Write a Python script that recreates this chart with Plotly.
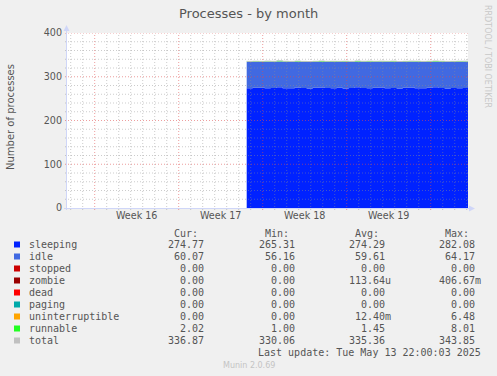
import datetime as dt
import pandas as pd
import plotly.graph_objects as go

# ---------------- data ----------------
series_names = ["sleeping", "idle", "stopped", "zombie", "dead", "paging",
                "uninterruptible", "runnable"]
series_colors = ["#0022ff", "#4169e1", "#cc0000", "#990000", "#ff0000",
                 "#00aaaa", "#ffa500", "#22ff22"]
total_color = "#c0c0c0"

data_start = "2025-04-26 16:00"   # first sample (12 h steps)

sleeping = [273.8, 274.6, 275.1, 273.9, 274.4, 276.2, 273.5, 274.0, 275.3, 274.1,
            273.2, 274.8, 275.6, 274.3, 273.7, 274.9, 273.1, 274.5, 276.0, 274.2,
            273.6, 274.7, 275.2, 273.9, 274.4, 273.3, 274.6, 275.5, 274.0, 273.8,
            274.9, 275.8, 274.1, 273.4, 274.3, 273.7, 274.5, 274.77]
idle = [59.9, 59.2, 58.8, 60.3, 59.7, 58.4, 60.6, 59.8, 58.9, 59.5,
        60.4, 59.1, 58.6, 59.7, 60.2, 59.0, 60.8, 59.4, 58.5, 59.9,
        60.3, 59.2, 58.9, 60.1, 59.6, 60.5, 59.3, 58.7, 59.8, 60.0,
        59.1, 58.6, 59.9, 60.4, 59.5, 60.2, 59.6, 60.07]
stopped = [0.0] * 38
zombie = [0.0] * 38
dead = [0.0] * 38
paging = [0.0] * 38
uninterruptible = [0.0] * 38
runnable = [1.4, 1.6, 1.3, 1.5, 1.2, 1.7, 1.4, 1.3, 1.6, 1.5,
            1.2, 1.4, 1.8, 1.3, 1.5, 1.4, 1.6, 1.2, 1.5, 1.3,
            1.7, 1.4, 1.5, 1.3, 1.6, 1.2, 1.4, 1.5, 1.7, 1.3,
            1.4, 1.6, 1.5, 1.3, 1.4, 1.6, 1.5, 2.02]
total = [335.1, 335.4, 335.2, 335.7, 335.3, 336.3, 335.5, 335.1, 335.8, 335.1,
         334.8, 335.3, 336.0, 335.3, 335.4, 335.3, 335.5, 335.1, 336.0, 335.4,
         335.6, 335.3, 335.6, 335.3, 335.6, 335.0, 335.3, 335.7, 335.5, 335.1,
         335.4, 336.0, 335.5, 335.1, 335.2, 335.5, 335.6, 336.87]

cur_vals = ["274.77", "60.07", "0.00", "0.00", "0.00", "0.00", "0.00", "2.02", "336.87"]
min_vals = ["265.31", "56.16", "0.00", "0.00", "0.00", "0.00", "0.00", "1.00", "330.06"]
avg_vals = ["274.29", "59.61", "0.00", "113.64u", "0.00", "0.00", "12.40m", "1.45", "335.36"]
max_vals = ["282.08", "64.17", "0.00", "406.67m", "0.00", "0.00", "6.48", "8.01", "343.85"]

y_ticks = [0, 100, 200, 300, 400]
x_range = ["2025-04-11 16:36", "2025-05-15 02:36"]
title_text = "Processes - by month"
y_title = "Number of processes"
last_update = "Last update: Tue May 13 22:00:03 2025"
footer = "Munin 2.0.69"
watermark = "RRDTOOL / TOBI OETIKER"

# ---------------- layout geometry ----------------
W, H = 497, 376
L, R, T, B = 67, 29, 33, 168
PW, PH = W - L - R, H - T - B


def px(x):
    return (x - L) / PW


def py(y):
    return (H - B - y) / PH


values = [sleeping, idle, stopped, zombie, dead, paging, uninterruptible, runnable]
times = pd.date_range(data_start, periods=len(sleeping), freq="12h")

fig = go.Figure()
for name, col, vals in zip(series_names, series_colors, values):
    fig.add_trace(go.Scatter(
        x=times, y=vals, name=name, mode="lines", stackgroup="procs",
        line=dict(width=0, shape="hv", color=col), fillcolor=col,
        hoverinfo="skip"))
fig.add_trace(go.Scatter(
    x=times, y=total, name="total", mode="lines",
    line=dict(width=1, shape="hv", color=total_color), hoverinfo="skip"))

# ---------------- grid (drawn above the data like rrdtool) ----------------
shapes = []
grid_minor = "rgba(143,143,143,0.45)"
grid_major = "rgba(222,79,79,0.55)"
dash = "1px,2px"
ext_x = 2 / PW
ext_y = 2 / PH

x0 = pd.Timestamp(x_range[0])
x1 = pd.Timestamp(x_range[1])
day = x0.normalize() + pd.Timedelta(days=1)
while day < x1:
    major = day.weekday() == 0
    shapes.append(dict(type="line", xref="x", yref="paper", x0=day, x1=day,
                       y0=-ext_y, y1=1, layer="above",
                       line=dict(color=grid_major if major else grid_minor,
                                 width=1, dash=dash)))
    day += pd.Timedelta(days=1)

for v in range(20, 401, 20):
    major = v % 100 == 0
    shapes.append(dict(type="line", xref="paper", yref="y", x0=-ext_x, x1=1 + ext_x,
                       y0=v, y1=v, layer="above",
                       line=dict(color=grid_major if major else grid_minor,
                                 width=1, dash=dash)))

axis_col = "#CFD6F8"
# axes lines + arrows
shapes.append(dict(type="line", xref="paper", yref="paper", x0=px(L - 0.5), x1=px(L - 0.5),
                   y0=py(H - B + 2), y1=py(28), layer="above",
                   line=dict(color=axis_col, width=1)))
shapes.append(dict(type="line", xref="paper", yref="paper", x0=px(L - 3), x1=px(471),
                   y0=py(H - B + 0.5), y1=py(H - B + 0.5), layer="above",
                   line=dict(color=axis_col, width=1)))
shapes.append(dict(type="path", xref="paper", yref="paper", layer="above",
                   path=f"M {px(63.5)} {py(31)} L {px(69.5)} {py(31)} L {px(66.5)} {py(25)} Z",
                   fillcolor=axis_col, line=dict(width=0)))
shapes.append(dict(type="path", xref="paper", yref="paper", layer="above",
                   path=f"M {px(469)} {py(205.5)} L {px(469)} {py(211.5)} L {px(475)} {py(208.5)} Z",
                   fillcolor=axis_col, line=dict(width=0)))

# ---------------- legend ----------------
annotations = []
mono = "DejaVu Sans Mono"
txt_col = "#555555"
cw = 5.95
row0 = 244.5
legend_names = series_names + ["total"]
legend_colors = series_colors + [total_color]

for hdr, xe in zip(["Cur:", "Min:", "Avg:", "Max:"], [199.8, 290.8, 380.8, 470.8]):
    annotations.append(dict(xref="paper", yref="paper", x=px(xe), y=py(233),
                            text=hdr, showarrow=False, xanchor="right", yanchor="middle",
                            font=dict(family=mono, size=10, color=txt_col)))

col_ends = [205.7, 296.7, 386.7, 476.7]
for i, (nm, colr) in enumerate(zip(legend_names, legend_colors)):
    yy = row0 + 12 * i
    shapes.append(dict(type="rect", xref="paper", yref="paper",
                       x0=px(14), x1=px(20), y0=py(yy - 3), y1=py(yy + 3),
                       fillcolor=colr, line=dict(width=0)))
    annotations.append(dict(xref="paper", yref="paper", x=px(26.5), y=py(yy),
                            text=nm, showarrow=False, xanchor="left", yanchor="middle",
                            font=dict(family=mono, size=10, color=txt_col)))
    for colvals, xe in zip([cur_vals, min_vals, avg_vals, max_vals], col_ends):
        s = colvals[i]
        end = xe + (cw if s[-1].isalpha() else 0)
        annotations.append(dict(xref="paper", yref="paper", x=px(end), y=py(yy),
                                text=s, showarrow=False, xanchor="right", yanchor="middle",
                                font=dict(family=mono, size=10, color=txt_col)))

annotations.append(dict(xref="paper", yref="paper", x=px(482.5), y=py(352.5),
                        text=last_update, showarrow=False, xanchor="right", yanchor="middle",
                        font=dict(family=mono, size=10, color=txt_col)))
annotations.append(dict(xref="paper", yref="paper", x=px(248.5), y=py(365),
                        text=footer, showarrow=False, xanchor="center", yanchor="middle",
                        font=dict(family="DejaVu Sans", size=8, color="#c4c4c4")))
annotations.append(dict(xref="paper", yref="paper", x=px(248), y=py(13.5),
                        text=title_text, showarrow=False, xanchor="center", yanchor="middle",
                        font=dict(family="DejaVu Sans", size=13, color="#555555")))
annotations.append(dict(xref="paper", yref="paper", x=px(10), y=py(117),
                        text=y_title, showarrow=False, xanchor="center", yanchor="middle",
                        textangle=-90,
                        font=dict(family="DejaVu Sans", size=10, color="#555555")))
annotations.append(dict(xref="paper", yref="paper", x=px(488), y=py(56),
                        text=watermark, showarrow=False, xanchor="center", yanchor="middle",
                        textangle=90,
                        font=dict(family="DejaVu Sans", size=8, color="#c8c8c8")))

# week labels centred in each ISO week
week_vals, week_text = [], []
mon = x0.normalize() - pd.Timedelta(days=x0.weekday())
while mon < x1:
    mid = mon + pd.Timedelta(days=3.5)
    if x0 < mid < x1:
        week_vals.append(mid)
        week_text.append(f"Week {mon.isocalendar()[1]}")
    mon += pd.Timedelta(days=7)

fig.update_layout(
    width=W, height=H,
    margin=dict(l=L, r=R, t=T, b=B, pad=0),
    paper_bgcolor="#F0F0F0", plot_bgcolor="#FFFFFF",
    showlegend=False,
    shapes=shapes, annotations=annotations,
    font=dict(family="DejaVu Sans", color="#555555"),
    xaxis=dict(type="date", range=x_range, showgrid=False, zeroline=False,
               showline=False, ticks="", tickvals=week_vals, ticktext=week_text,
               tickfont=dict(family="DejaVu Sans", size=9.6, color="#555555"),
               fixedrange=True),
    yaxis=dict(range=[0, 400], showgrid=False, zeroline=False, showline=False,
               ticks="", tickvals=y_ticks, ticklabelstandoff=4,
               tickfont=dict(family="DejaVu Sans", size=9.6, color="#555555"),
               fixedrange=True),
)

fig.write_html("out.html", config={"displayModeBar": False},
               post_script="document.body.style.margin='0';document.body.style.padding='0';"
                           "document.body.style.background='#F0F0F0';")
